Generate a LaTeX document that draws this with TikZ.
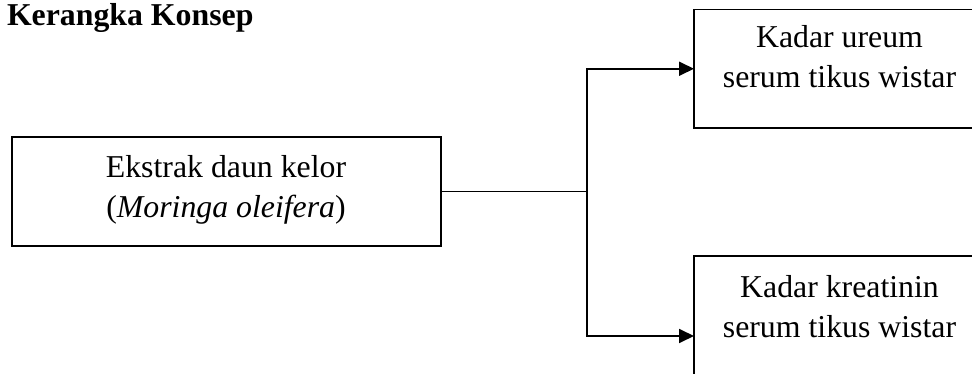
\documentclass[tikz,border=0pt]{standalone}
\usepackage{fontspec}
\setmainfont{Liberation Serif}
\usetikzlibrary{arrows.meta}
\begin{document}
\begin{tikzpicture}[x=1pt,y=-1pt,
  every node/.style={inner sep=0pt,outer sep=0pt},
  box/.style={draw,line width=1.6pt,rectangle},
  label/.style={align=center,anchor=base,font=\fontsize{31.8}{40}\selectfont},
  link/.style={line width=1.8pt},
  arr/.style={link,-{Triangle[length=15pt,width=14pt]}}]
  \useasboundingbox (0,0) rectangle (972,374);
  \clip (0,0) rectangle (972,374);

  % heading
  \node[anchor=base west,font=\fontsize{31.8}{40}\selectfont\bfseries] (title) at (7,26) {Kerangka Konsep};

  % boxes
  \node[box,minimum width=429pt,minimum height=109pt] (src) at (226.5,191.5) {};
  \node[box,minimum width=292pt,minimum height=118.5pt] (ureum) at (840,68.75) {};
  \node[box,minimum width=292pt,minimum height=160pt] (kreat) at (840,336) {};

  % box texts (anchored on the baseline of their last line)
  \node[label] (srctext) at (226,218) {Ekstrak daun kelor\\(\textit{Moringa oleifera})};
  \node[label] (ureumtext) at (839.5,88) {Kadar ureum\\serum tikus wistar};
  \node[label] (kreattext) at (839.5,337) {Kadar kreatinin\\serum tikus wistar};

  % connectors
  \coordinate (split) at (587,191.5);
  \draw[link] (src.east) -- (split);
  \draw[arr] (split) |- (ureum.west);
  \draw[arr] (split) |- (kreat.west);
\end{tikzpicture}
\end{document}
